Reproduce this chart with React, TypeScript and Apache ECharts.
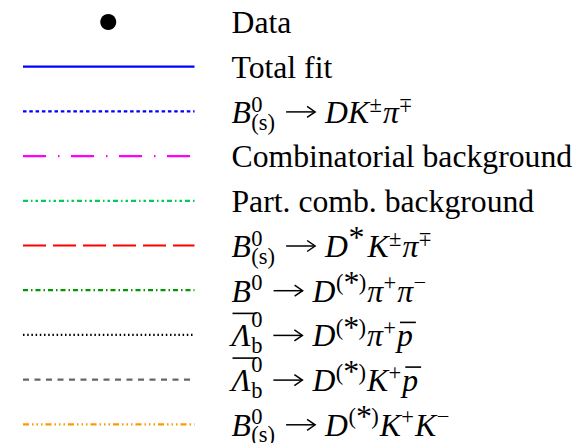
import React, { useEffect, useRef } from 'react';
import * as echarts from 'echarts';

const SERIF = 'Liberation Serif';

type Piece =
  | { kind: 'txt'; t: string; it?: boolean; bar?: boolean }
  | { kind: 'scr'; sup?: string; sub?: string }
  | { kind: 'arrow' };

const txt = (t: string): Piece => ({ kind: 'txt', t });
const it = (t: string, bar = false): Piece => ({ kind: 'txt', t, it: true, bar });
const scr = (sup?: string, sub?: string): Piece => ({ kind: 'scr', sup, sub });
const arrow: Piece = { kind: 'arrow' };

// Legend entry names (TLatex-like pieces)
const entryNames: Piece[][] = [
  [txt('Data')],
  [txt('Total fit')],
  [it('B'), scr('0', '(s)'), arrow, it('D'), it('K'), scr('±'), it('π'), scr('∓')],
  [txt('Combinatorial background')],
  [txt('Part. comb. background')],
  [it('B'), scr('0', '(s)'), arrow, it('D'), scr('*'), it('K'), scr('±'), it('π'), scr('∓')],
  [it('B'), scr('0'), arrow, it('D'), scr('(*)'), it('π'), scr('+'), it('π'), scr('−')],
  [it('Λ', true), scr('0', 'b'), arrow, it('D'), scr('(*)'), it('π'), scr('+'), it('p', true)],
  [it('Λ', true), scr('0', 'b'), arrow, it('D'), scr('(*)'), it('K'), scr('+'), it('p', true)],
  [it('B'), scr('0', '(s)'), arrow, it('D'), scr('(*)'), it('K'), scr('+'), it('K'), scr('−')],
];

// Sample kind for each entry
const entryKinds: ('marker' | 'line')[] = [
  'marker', 'line', 'line', 'line', 'line', 'line', 'line', 'line', 'line', 'line',
];

// Line colours and dash patterns of the legend samples
const entryColors = [
  '#000000', '#0000ff', '#0000ff', '#ff00ff', '#00cc55',
  '#ff0000', '#009900', '#000000', '#666666', '#ff9900',
];
const entryDashes: (number[] | null)[] = [
  null,
  null,
  [3.5, 2.8],
  [23, 12, 1.5, 11.5],
  [5, 3, 1.5, 3, 2.5, 3],
  [23, 7],
  [5, 3, 1.5, 3],
  [1.5, 2.7],
  [6, 5.5],
  [6, 3, 1.5, 3, 1.5, 3, 1.5, 3],
];

const MAIN = 31.7;
const SCRIPT = 22.5;
const STAR = 32;
const ROW0 = 22;
const ROW_STEP = 44.7;
const LINE_X0 = 23;
const LINE_X1 = 194.5;
const TEXT_X = 231.5;
const ARROW_LEN = 29;

const cssFont = (size: number, italic: boolean) =>
  `${italic ? 'italic ' : ''}${size}px "${SERIF}"`;

function buildGraphics(): any[] {
  const canvas = document.createElement('canvas');
  const ctx = canvas.getContext('2d')!;
  const measure = (s: string, size: number, italic: boolean) => {
    ctx.font = cssFont(size, italic);
    return ctx.measureText(s).width;
  };
  const els: any[] = [];

  // place a text so that its alphabetic baseline sits on `baseline`
  const put = (
    s: string,
    x: number,
    baseline: number,
    size: number,
    italic: boolean,
    flip = false,
  ) => {
    const w = measure(s, size, italic);
    els.push({
      type: 'text',
      x,
      y: baseline - 0.305 * size,
      rotation: flip ? Math.PI : 0,
      originX: w / 2,
      originY: 0.055 * size,
      style: {
        text: s,
        fontFamily: SERIF,
        fontSize: size,
        fontStyle: italic ? 'italic' : 'normal',
        fill: '#000',
        align: 'left',
        verticalAlign: 'middle',
      },
    });
    return w;
  };

  // superscript / subscript; ∓ is drawn as a turned ±, the star larger and lower
  const putScript = (s: string, x: number, baseline: number) => {
    if (s === '∓') return put('±', x, baseline, SCRIPT, false, true);
    if (s === '*') return put('*', x, baseline + 2, STAR, false) + 2;
    if (s === '(*)') {
      let w = put('(', x, baseline, SCRIPT, false);
      w += put('*', x + w, baseline + 2, STAR, false) * 0.95;
      w += put(')', x + w, baseline, SCRIPT, false);
      return w;
    }
    return put(s, x, baseline, SCRIPT, false);
  };

  entryNames.forEach((pieces, i) => {
    const cy = ROW0 + i * ROW_STEP;
    const base = cy + 10.5;

    if (entryKinds[i] === 'marker') {
      els.push({
        type: 'circle',
        shape: { cx: (LINE_X0 + LINE_X1) / 2 - 0.5, cy, r: 8 },
        style: { fill: entryColors[i] },
      });
    } else {
      els.push({
        type: 'line',
        shape: { x1: LINE_X0, y1: cy, x2: LINE_X1, y2: cy },
        style: {
          stroke: entryColors[i],
          lineWidth: 2.2,
          lineDash: entryDashes[i] || undefined,
        },
      });
    }

    let x = TEXT_X;
    let prevBar = false;
    pieces.forEach((p) => {
      if (p.kind === 'txt') {
        const w = put(p.t, x, base, MAIN, !!p.it);
        if (p.bar) {
          const upper = p.t.toUpperCase() === p.t;
          const by = base - (upper ? 32 : 23);
          els.push({
            type: 'line',
            shape: { x1: x + (upper ? 1 : 3), y1: by, x2: x + w + (upper ? 6 : 3), y2: by },
            style: { stroke: '#000', lineWidth: 1.6 },
          });
        }
        prevBar = !!p.bar;
        x += w;
      } else if (p.kind === 'scr') {
        let w = 0;
        const sx = x + 0.5;
        if (p.sup) w = Math.max(w, putScript(p.sup, sx, base - (prevBar ? 19 : 11)));
        if (p.sub) w = Math.max(w, putScript(p.sub, sx, base + 7));
        x = sx + w + 1;
        prevBar = false;
      } else {
        x += 10;
        const ay = cy + 0.5;
        els.push({
          type: 'line',
          shape: { x1: x, y1: ay, x2: x + ARROW_LEN, y2: ay },
          style: { stroke: '#000', lineWidth: 1.5 },
        });
        els.push({
          type: 'polyline',
          shape: {
            points: [
              [x + ARROW_LEN - 8, ay - 5.5],
              [x + ARROW_LEN, ay],
              [x + ARROW_LEN - 8, ay + 5.5],
            ],
          },
          style: { stroke: '#000', lineWidth: 1.5, fill: 'none' },
        });
        x += ARROW_LEN + 10;
        prevBar = false;
      }
    });
  });
  return els;
}

export default function App() {
  const ref = useRef<HTMLDivElement>(null);

  useEffect(() => {
    if (!ref.current) return;
    const chart = echarts.init(ref.current, undefined, { renderer: 'svg' });
    chart.setOption({
      animation: false,
      backgroundColor: '#ffffff',
      graphic: { elements: buildGraphics() },
    });
    return () => chart.dispose();
  }, []);

  return (
    <div
      ref={ref}
      style={{ position: 'fixed', left: 0, top: 0, width: 578, height: 443, background: '#fff' }}
    />
  );
}
